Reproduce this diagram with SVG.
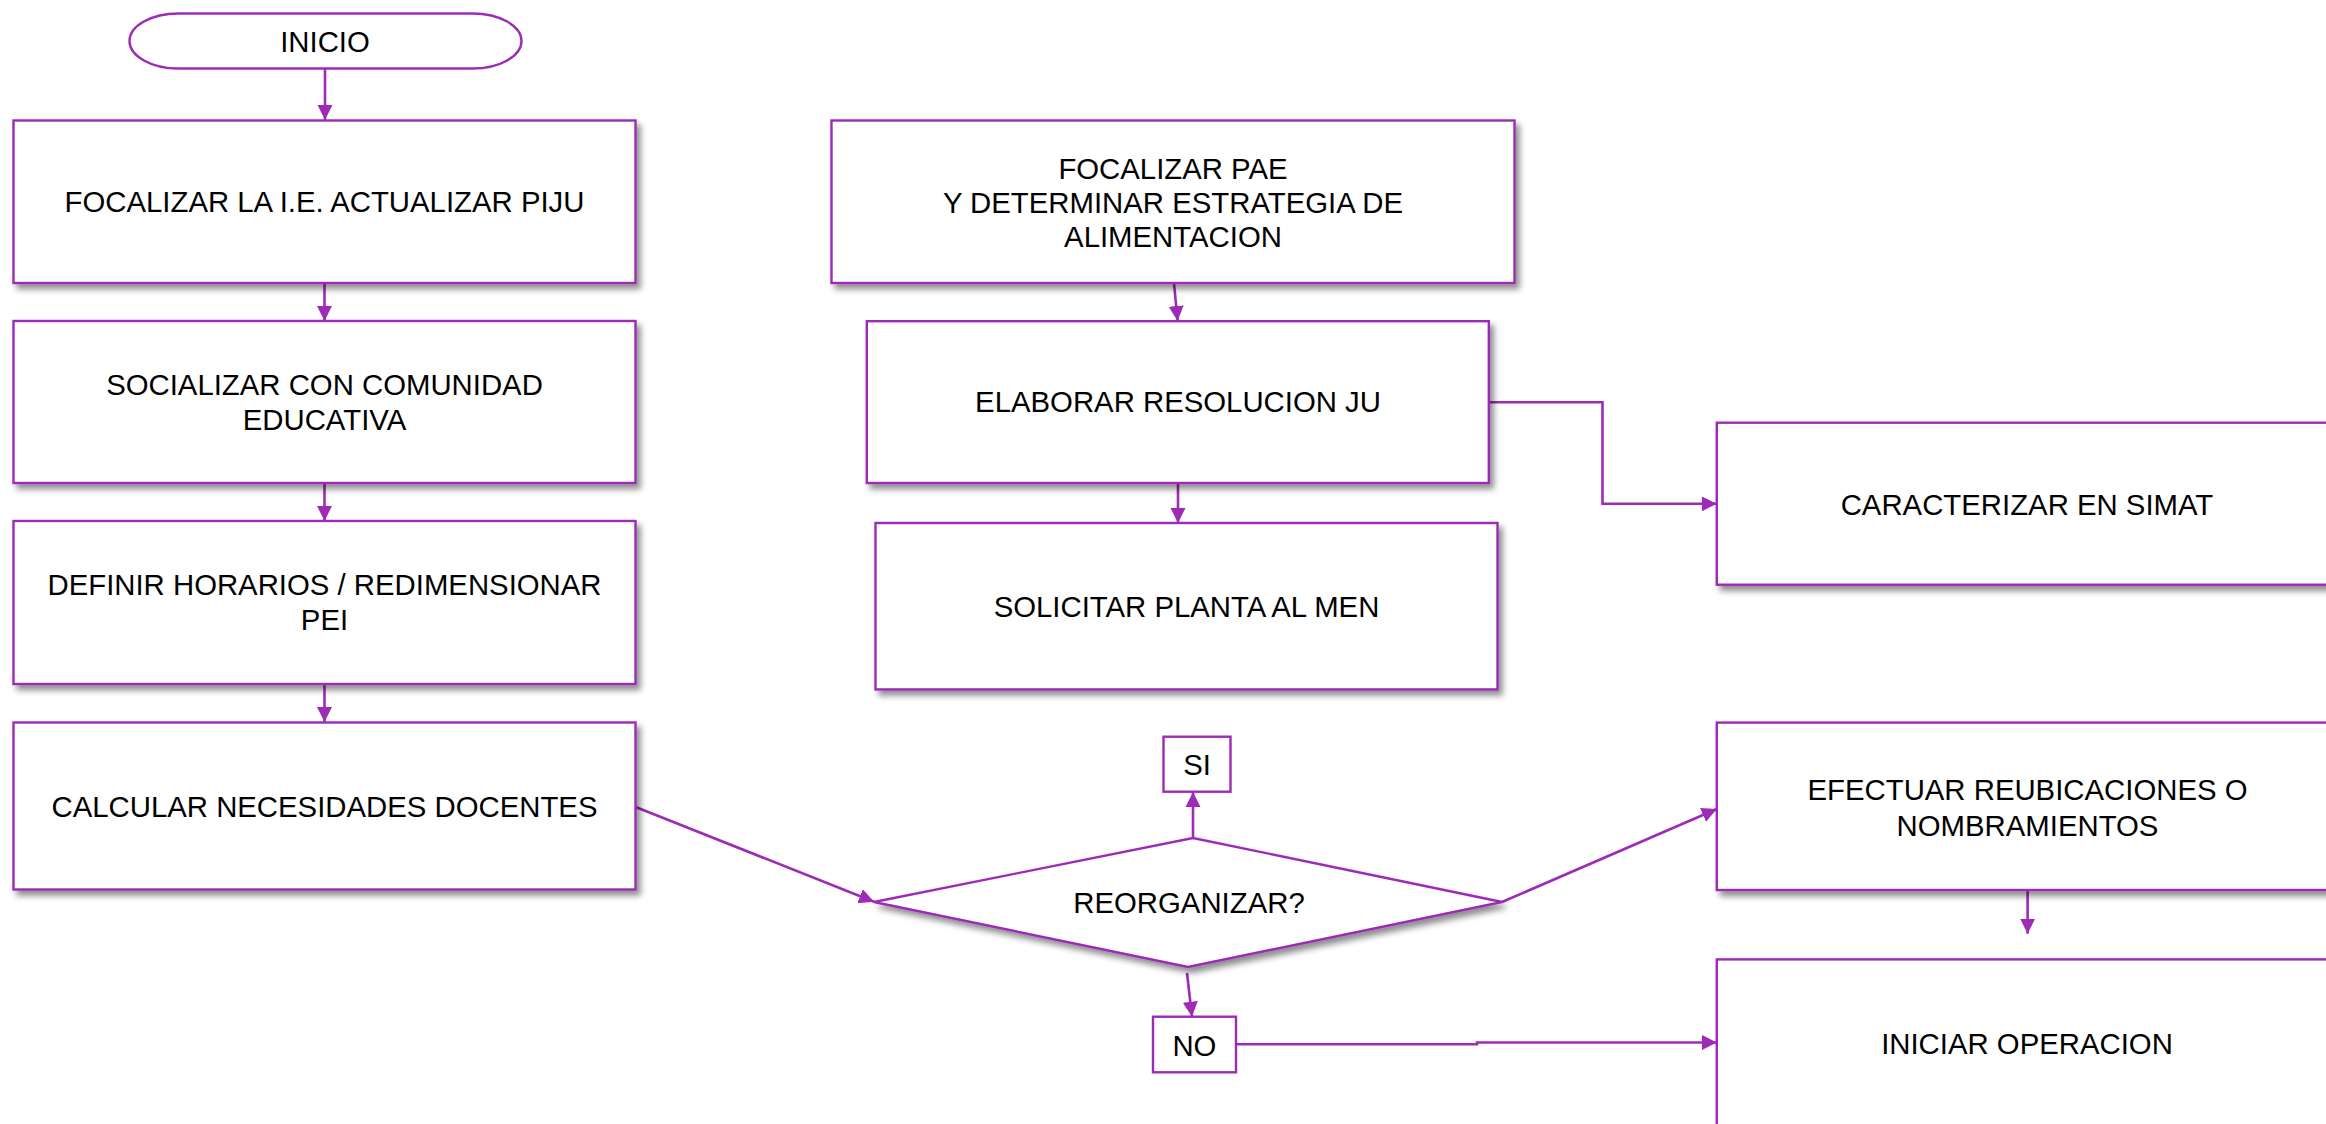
<svg xmlns="http://www.w3.org/2000/svg" width="2326" height="1124" viewBox="0 0 2326 1124">
<defs>
<style>
.box{fill:#fff;stroke:#9D2BB6;stroke-width:2.4}
.sh{filter:url(#shadow)}
.t{font-family:"Liberation Sans",Arial,sans-serif;font-size:29.33px;fill:#000;text-anchor:middle}
.c{fill:none;stroke:#9D2BB6;stroke-width:2.6;marker-end:url(#arr)}
</style>
<marker id="arr" markerUnits="userSpaceOnUse" markerWidth="16" markerHeight="16" refX="15" refY="7.5" orient="auto" viewBox="0 0 16 15">
<path d="M0,0 L15,7.5 L0,15 z" fill="#9D2BB6"/>
</marker>
<filter id="shadow" x="-10%" y="-10%" width="130%" height="140%">
<feGaussianBlur in="SourceAlpha" stdDeviation="3"/>
<feOffset dx="4" dy="5" result="b"/>
<feComponentTransfer><feFuncA type="linear" slope="0.45"/></feComponentTransfer>
<feMerge><feMergeNode/><feMergeNode in="SourceGraphic"/></feMerge>
</filter>
</defs>
<rect width="2326" height="1124" fill="#fff"/>
<g id="connectors">
<path class="c" d="M325,68.5 L325,120"/>
<path class="c" d="M324.5,283 L324.5,321"/>
<path class="c" d="M324.5,483 L324.5,521"/>
<path class="c" d="M324.5,684 L324.5,722"/>
<path class="c" d="M1174,283 L1177.6,321"/>
<path class="c" d="M1178,483 L1178,523"/>
<path class="c" d="M1489,402.3 L1602.5,402.3 L1602.5,503.8 L1716.8,503.8"/>
<path class="c" d="M635,806.7 L874,901.7"/>
<path class="c" d="M1193,838 L1193,792"/>
<path class="c" d="M1187,973 L1192,1016.7"/>
<path class="c" d="M1236,1044.3 L1477,1044.3 L1477,1042.5 L1716.8,1042.5"/>
<path class="c" d="M1502,902 L1716.8,809"/>
<path class="c" d="M2027.6,890 L2027.6,933.7"/>
</g>
<g id="inicio">
<rect class="box" x="129.5" y="13.5" width="392" height="55" rx="49" ry="27.5"/>
<text class="t" x="325" y="52">INICIO</text>
</g>
<g id="focalizar-ie">
<rect class="box sh" x="13.5" y="120.5" width="622" height="162.5"/>
<text class="t" x="324.5" y="211.7">FOCALIZAR LA I.E. ACTUALIZAR PIJU</text>
</g>
<g id="socializar">
<rect class="box sh" x="13.5" y="321" width="622" height="162"/>
<text class="t" x="324.5" y="395">SOCIALIZAR CON COMUNIDAD</text>
<text class="t" x="324.5" y="430">EDUCATIVA</text>
</g>
<g id="definir">
<rect class="box sh" x="13.5" y="521" width="622" height="163"/>
<text class="t" x="324.5" y="595">DEFINIR HORARIOS / REDIMENSIONAR</text>
<text class="t" x="324.5" y="630">PEI</text>
</g>
<g id="calcular">
<rect class="box sh" x="13.5" y="722.5" width="622" height="167"/>
<text class="t" x="324.5" y="817.3">CALCULAR NECESIDADES DOCENTES</text>
</g>
<g id="focalizar-pae">
<rect class="box sh" x="831.5" y="120.5" width="683" height="162.5"/>
<text class="t" x="1173" y="178.5">FOCALIZAR PAE</text>
<text class="t" x="1173" y="213">Y DETERMINAR ESTRATEGIA DE</text>
<text class="t" x="1173" y="247.3">ALIMENTACION</text>
</g>
<g id="elaborar">
<rect class="box sh" x="866.8" y="321.2" width="622" height="161.8"/>
<text class="t" x="1178" y="412">ELABORAR RESOLUCION JU</text>
</g>
<g id="solicitar">
<rect class="box sh" x="875.5" y="523" width="622" height="166.4"/>
<text class="t" x="1186.5" y="617.4">SOLICITAR PLANTA AL MEN</text>
</g>
<g id="caracterizar">
<rect class="box sh" x="1716.8" y="422.7" width="621" height="162"/>
<text class="t" x="2027" y="515">CARACTERIZAR EN SIMAT</text>
</g>
<g id="reorganizar">
<polygon class="box sh" points="874,902 1193,838 1502,902 1188,967"/>
<text class="t" x="1189" y="913">REORGANIZAR?</text>
</g>
<g id="si">
<rect class="box" x="1163.5" y="736.7" width="67" height="55"/>
<text class="t" x="1197" y="775">SI</text>
</g>
<g id="no">
<rect class="box" x="1153" y="1016.7" width="83" height="55.6"/>
<text class="t" x="1194.4" y="1056">NO</text>
</g>
<g id="efectuar">
<rect class="box sh" x="1716.8" y="722.6" width="621" height="167.4"/>
<text class="t" x="2027.5" y="800">EFECTUAR REUBICACIONES O</text>
<text class="t" x="2027.5" y="835.5">NOMBRAMIENTOS</text>
</g>
<g id="iniciar">
<rect class="box sh" x="1716.8" y="959.4" width="621" height="200"/>
<text class="t" x="2027" y="1054">INICIAR OPERACION</text>
</g>
</svg>
